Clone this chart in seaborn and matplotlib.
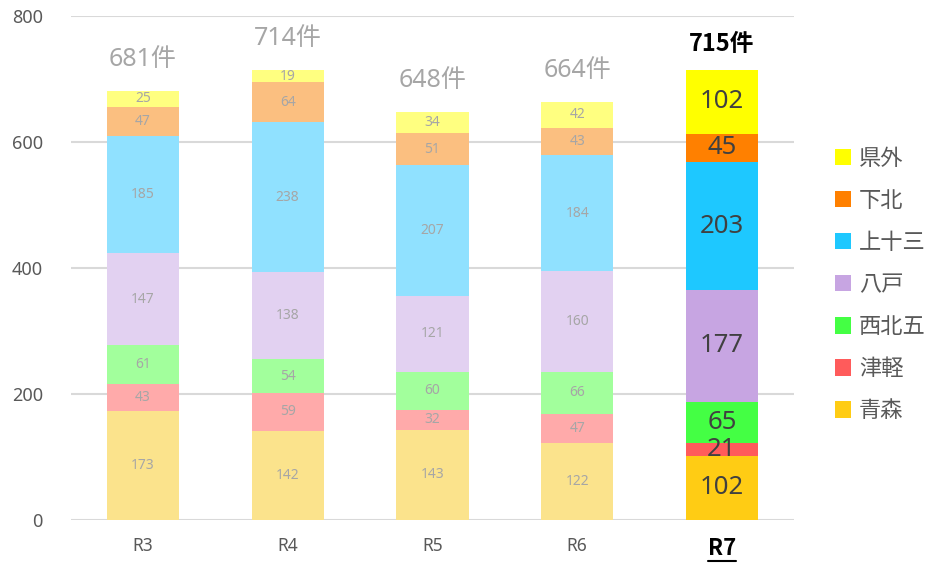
import matplotlib
matplotlib.use("Agg")
import matplotlib.pyplot as plt
import seaborn as sns
import numpy as np
import pandas as pd
from matplotlib.patches import Patch
from matplotlib.lines import Line2D

years = ["R3", "R4", "R5", "R6", "R7"]
series_names = ["青森", "津軽", "西北五", "八戸", "上十三", "下北", "県外"]
aomori = [173, 142, 143, 122, 102]
tsugaru = [43, 59, 32, 47, 21]
seihokugo = [61, 54, 60, 66, 65]
hachinohe = [147, 138, 121, 160, 177]
kamitosan = [185, 238, 207, 184, 203]
shimokita = [47, 64, 51, 43, 45]
kengai = [25, 19, 34, 42, 102]
totals = [681, 714, 648, 664, 715]

vivid = ["#FFCC14", "#FF5B5B", "#44FF44", "#C7A5E2", "#1EC8FF", "#FF8000", "#FFFF00"]
faded = ["#FBE38C", "#FFAAAA", "#A2FF9C", "#E2D1F1", "#90E1FF", "#FBBF80", "#FFFF80"]

values = [aomori, tsugaru, seihokugo, hachinohe, kamitosan, shimokita, kengai]

sns.set_theme(style="white")
plt.rcParams['font.family'] = ['Noto Sans', 'Noto Sans CJK JP', 'DejaVu Sans']
BOLD_FAMILY = ['Noto Sans CJK JP', 'DejaVu Sans']

fig = plt.figure(figsize=(9.3, 5.71), dpi=100)
ax = fig.add_axes([0.076, 0.0893, 0.778, 0.8827])

cums = np.cumsum(np.array(values), axis=0)

# draw from the top-most cumulative down
for i in range(len(series_names) - 1, -1, -1):
    df = pd.DataFrame({"year": years, "val": cums[i]})
    pal = [faded[i]] * 4 + [vivid[i]]
    sns.barplot(data=df, x="year", y="val", hue="year", palette=pal,
                width=0.5, legend=False, ax=ax, linewidth=0, saturation=1)

ax.set_ylim(0, 800)
ax.set_xlim(-0.5, 4.5)
ax.set_yticks([0, 200, 400, 600, 800])
ax.yaxis.grid(True, color="#D9D9D9", linewidth=1.5)
ax.set_axisbelow(True)
for s in ax.spines.values():
    s.set_visible(False)
ax.set_xlabel("")
ax.set_ylabel("")
ax.tick_params(axis="y", labelsize=13, labelcolor="#595959", length=0, pad=20)
ax.tick_params(axis="x", labelsize=12.5, labelcolor="#595959", length=0, pad=12)

# segment labels
for i in range(len(series_names)):
    for j in range(len(years)):
        v = values[i][j]
        yc = cums[i][j] - v / 2
        if j < 4:
            ax.text(j, yc, str(v), ha="center", va="center", fontsize=10, color="#A6A6A6")
        else:
            ax.text(j, yc, str(v), ha="center", va="center", fontsize=18.5, color="#404040")

# totals
for j, t in enumerate(totals):
    if j < 4:
        ax.text(j, t + 50, f"{t}件", ha="center", va="center", fontsize=18, color="#A6A6A6")
    else:
        ax.text(j, t + 40, f"{t}件", ha="center", va="center", fontsize=17,
                color="#000000", fontweight="bold", family=BOLD_FAMILY)

# x tick labels styling
labels = ax.get_xticklabels()
labels[-1].set_fontweight("bold")
labels[-1].set_fontsize(16)
labels[-1].set_color("#000000")
labels[-1].set_family(BOLD_FAMILY)

# legend
handles = [Patch(facecolor=vivid[i], edgecolor="none", label=series_names[i])
           for i in range(len(series_names) - 1, -1, -1)]
leg = fig.legend(handles=handles, loc="center left", bbox_to_anchor=(0.876, 0.50),
                 frameon=False, fontsize=16, handlelength=0.75, handleheight=0.75,
                 handletextpad=0.35, labelspacing=0.95, labelcolor="#595959")

# underline for R7
fig.canvas.draw()
bb = labels[-1].get_window_extent(renderer=fig.canvas.get_renderer())
inv = fig.transFigure.inverted()
(x0, y0), (x1, y1) = inv.transform([(bb.x0, bb.y0), (bb.x1, bb.y0)])
fig.add_artist(Line2D([x0, x1], [y0 - 0.002, y0 - 0.002], color="#000000", linewidth=1.5,
                      transform=fig.transFigure))

fig.savefig("out.png", dpi=100)
